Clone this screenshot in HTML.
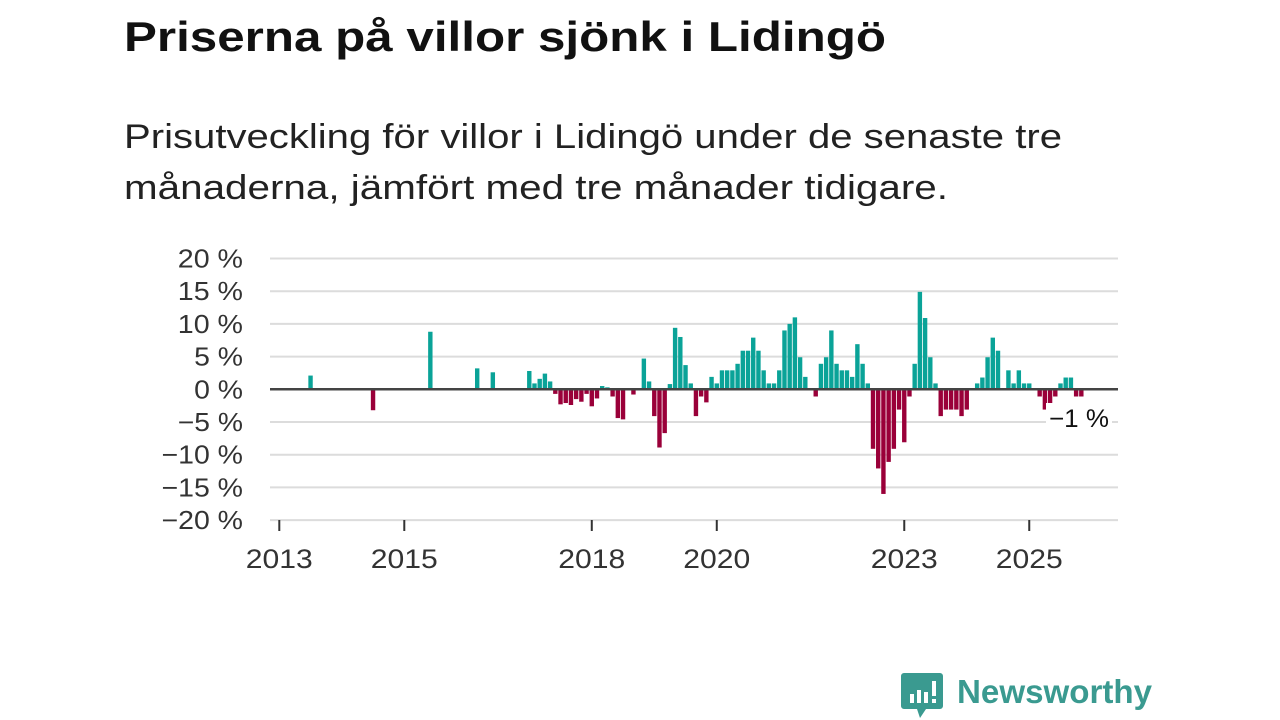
<!DOCTYPE html>
<html><head><meta charset="utf-8"><style>
html,body{margin:0;padding:0;background:#fff;}
svg{display:block;font-family:"Liberation Sans",sans-serif;}
</style></head><body>
<svg id="chart" width="1280" height="720" viewBox="0 0 1280 720">
<text x="124" y="51" font-size="42" font-weight="bold" fill="#111" textLength="762" lengthAdjust="spacingAndGlyphs">Priserna på villor sjönk i Lidingö</text>
<text x="124" y="148" font-size="34" fill="#222" textLength="938" lengthAdjust="spacingAndGlyphs">Prisutveckling för villor i Lidingö under de senaste tre</text>
<text x="124" y="199" font-size="34" fill="#222" textLength="824" lengthAdjust="spacingAndGlyphs">månaderna, jämfört med tre månader tidigare.</text>
<g id="grid"></g><g id="bars"></g><g id="axes"></g>
<g>
<path d="M904 673 h36 a3 3 0 0 1 3 3 v30 a3 3 0 0 1 -3 3 h-14 l-6 9 l-3 -9 h-13 a3 3 0 0 1 -3 -3 v-30 a3 3 0 0 1 3 -3z" fill="#3a9a90"/>
<rect x="910" y="694" width="4" height="9" fill="#fff"/><rect x="917" y="690" width="4" height="13" fill="#fff"/><rect x="924" y="692" width="4" height="11" fill="#fff"/><rect x="932" y="681" width="4" height="15" fill="#fff"/><rect x="932" y="699" width="4" height="4" fill="#fff"/>
<text x="957" y="703" font-size="33" font-weight="bold" fill="#3a9a90" textLength="195" lengthAdjust="spacingAndGlyphs">Newsworthy</text>
</g>
</svg>
<script>
const yTicks=[20,15,10,5,0,-5,-10,-15,-20];
const yTickLabels=["20 %","15 %","10 %","5 %","0 %","−5 %","−10 %","−15 %","−20 %"];
const xTickYears=[2013,2015,2018,2020,2023,2025];
const months=[6,18,29,38,41,48,49,50,51,52,53,54,55,56,57,58,59,60,61,62,63,64,65,66,68,70,71,72,73,74,75,76,77,78,79,80,81,82,83,84,85,86,87,88,89,90,91,92,93,94,95,96,97,98,99,100,101,103,104,105,106,107,108,109,110,111,112,113,114,115,116,117,118,119,120,121,122,123,124,125,126,127,128,129,130,131,132,134,135,136,137,138,140,141,142,143,144,146,147,148,149,150,151,152,153,154];
const values=[2.1,-3.2,8.8,3.2,2.6,2.8,0.9,1.6,2.4,1.2,-0.7,-2.3,-2.1,-2.4,-1.5,-1.9,-0.7,-2.6,-1.4,0.5,0.3,-1.1,-4.4,-4.6,-0.8,4.7,1.2,-4.1,-8.9,-6.7,0.8,9.4,8.0,3.7,0.9,-4.1,-1.1,-2.0,1.9,0.9,2.9,2.9,2.9,3.9,5.9,5.9,7.9,5.9,2.9,0.9,0.9,2.9,9.0,10.0,11.0,4.9,1.9,-1.1,3.9,4.9,9.0,3.9,2.9,2.9,1.9,6.9,3.9,0.9,-9.1,-12.1,-16.0,-11.1,-9.1,-3.1,-8.1,-1.1,3.9,14.9,10.9,4.9,0.9,-4.1,-3.1,-3.1,-3.1,-4.1,-3.1,0.9,1.8,4.9,7.9,5.9,2.9,0.9,2.9,0.9,0.9,-1.1,-3.1,-2.1,-1.1,0.9,1.8,1.8,-1.1,-1.1];
const lastLabel="−1 %";
const NS="http://www.w3.org/2000/svg";
function y(v){return 389.3-v*6.54;}
function xm(m){return 279.3+m*5.208;}
function xYear(yr){return xm((yr-2013)*12);}
function mk(tag,attrs,parent,txt){const e=document.createElementNS(NS,tag);for(const k in attrs)e.setAttribute(k,attrs[k]);if(txt!==undefined)e.textContent=txt;parent.appendChild(e);return e;}
const grid=document.getElementById('grid'),bars=document.getElementById('bars'),axes=document.getElementById('axes');
yTicks.forEach((t,i)=>{
 if(t!==0){const l=mk('line',{x1:270,x2:1118,y1:y(t),y2:y(t),stroke:'#dcdcdc','stroke-width':2},grid);
 
 }
 const lab=yTickLabels[i];
 const tx=mk('text',{x:243,y:y(t)+9,'font-size':26,'text-anchor':'end',fill:'#333',textLength:lab.length*16.3,lengthAdjust:'spacingAndGlyphs'},axes,lab);
 
 
});
months.forEach((m,i)=>{
 const v=values[i];const y0=y(0),y1=y(v);
 const r=mk('rect',{x:xm(m)-2.2,width:4.4,y:Math.min(y0,y1),height:Math.abs(y1-y0),fill:v>=0?'#0aa398':'#9a0039'},bars);
 
 
});
const z=mk('line',{x1:270,x2:1118,y1:y(0),y2:y(0),stroke:'#444','stroke-width':2.5},axes);


xTickYears.forEach(yr=>{
 const t=mk('line',{x1:xYear(yr),x2:xYear(yr),y1:520,y2:531,stroke:'#333','stroke-width':2},axes);
 
 
 const l=mk('text',{x:xYear(yr),y:568,'font-size':27,'text-anchor':'middle',fill:'#333',textLength:67,lengthAdjust:'spacingAndGlyphs'},axes,String(yr));
 
 
});
const bg=mk('rect',{x:1046,y:403,width:66,height:30,fill:'#fff'},axes);


const lv=mk('text',{x:1049,y:427,'font-size':25,fill:'#111',textLength:60,lengthAdjust:'spacingAndGlyphs'},axes,lastLabel);


</script>
</body></html>
